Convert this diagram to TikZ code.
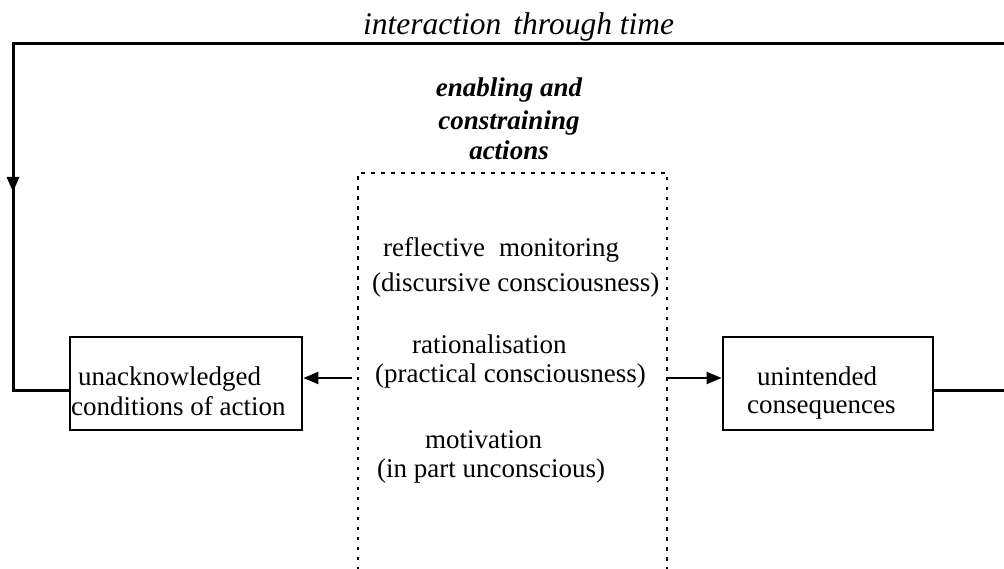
\documentclass[tikz,border=0pt]{standalone}
\usepackage{fontspec}
\setmainfont{Liberation Serif}
\usetikzlibrary{arrows.meta}
\begin{document}
\begin{tikzpicture}[x=1pt,y=-1pt,
  wire/.style={line width=3pt},
  link/.style={line width=2.2pt},
  tip/.style={-{Triangle[length=15pt,width=12pt]}},
  dots/.style={line width=2.6pt, dash pattern=on 3.5pt off 6.5pt},
  box/.style={draw, line width=2.8pt, minimum height=93pt, inner sep=0pt},
  txt/.style={inner sep=0pt, anchor=base west, font=\fontsize{27}{30}\selectfont},
  head/.style={inner sep=0pt, anchor=base, font=\fontsize{27}{30}\selectfont\bfseries\itshape},
]
\useasboundingbox (0,0) rectangle (1004,569);
\clip (0,0) rectangle (1004,569);

% title over the feedback loop
\node[txt, font=\fontsize{31.5}{34}\selectfont\itshape] (title) at (363,35) {interaction\hspace{12pt}through time};

% heading of the action column
\node[head] (h1) at (509,97)  {enabling and};
\node[head] (h2) at (509,130) {constraining};
\node[head] (h3) at (509,160) {actions};

% open dotted frame of the action column
\coordinate (dbl) at (358,590);
\coordinate (dtl) at (358,173);
\coordinate (dtr) at (667,173);
\coordinate (dbr) at (667,590);
\draw[dots] (dbl) -- (dtl) -- (dtr) -- (dbr);

\node[txt] (t1) at (383,257) {reflective\hspace{14pt}monitoring};
\node[txt] (t2) at (372,292) {(discursive consciousness)};
\node[txt] (t3) at (412,353) {rationalisation};
\node[txt] (t4) at (375,382) {(practical consciousness)};
\node[txt] (t5) at (425,448) {motivation};
\node[txt] (t6) at (377,477) {(in part unconscious)};

% side boxes
\node[box, minimum width=232pt] (lbox) at (186,383.5) {};
\node[txt] (l1) at (78,385) {unacknowledged};
\node[txt] (l2) at (71,415) {conditions of action};

\node[box, minimum width=210pt] (rbox) at (828,383.5) {};
\node[txt] (r1) at (757,385) {unintended};
\node[txt] (r2) at (747,413) {consequences};

% arrows out of the action column
\coordinate (al) at (352,378);
\coordinate (ar) at (667,378);
\draw[link, tip] (al) -- (al -| lbox.east);
\draw[link, tip] (ar) -- (ar -| rbox.west);

% feedback loop from consequences back to conditions
\coordinate (ry) at (0,390);
\coordinate (br) at (1012,390);
\coordinate (tr) at (1012,44);
\coordinate (tl) at (13,44);
\coordinate (bl) at (13,390);
\coordinate (amid) at (13,192);
\draw[wire] (rbox.east |- ry) -- (br) -- (tr) -- (tl) -- (bl) -- (lbox.west |- ry);
\draw[wire, tip] (tl) -- (amid);
\end{tikzpicture}
\end{document}
